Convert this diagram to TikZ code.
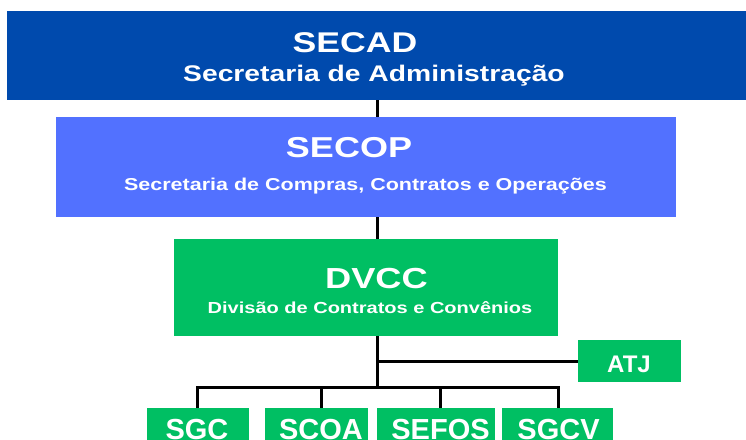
\documentclass[tikz,border=0pt]{standalone}
\usepackage{fontspec}
\setmainfont{Liberation Sans}
\newfontfamily\widesans[FakeStretch=1.25]{Liberation Sans}
\definecolor{secadblue}{HTML}{004AAD}
\definecolor{secopblue}{HTML}{5271FF}
\definecolor{unitgreen}{HTML}{00BF63}

\begin{document}
\begin{tikzpicture}[x=1pt, y=-1pt,
    unit/.style={fill=#1, inner sep=0pt, outer sep=0pt},
    wtext/.style={text=white, anchor=base, inner sep=0pt, font=\widesans\bfseries\fontsize{#1}{#1}\selectfont},
    ptext/.style={text=white, anchor=base, inner sep=0pt, font=\bfseries\fontsize{#1}{#1}\selectfont},
    link/.style={line width=3pt}]
		\useasboundingbox (0,0) rectangle (746,439);
		\node[unit=secadblue, minimum width=740pt, minimum height=89pt] (secad) at (377,55.5) {};
		\node[wtext=28.5] (secad-t) at (355,52) {SECAD};
		\node[wtext=22.6] (secad-s) at (374,81) {Secretaria de Administração};
		\node[unit=secopblue, minimum width=620pt, minimum height=100pt] (secop) at (366,167) {};
		\node[wtext=28.8] (secop-t) at (349,157) {SECOP};
		\node[wtext=17.2] (secop-s) at (365.5,190) {Secretaria de Compras, Contratos e Operações};
		\node[unit=unitgreen, minimum width=384pt, minimum height=97pt] (dvcc) at (366,287.5) {};
		\node[wtext=29] (dvcc-t) at (376.5,288) {DVCC};
		\node[wtext=16] (dvcc-s) at (370,313) {Divisão de Contratos e Convênios};
		\node[unit=unitgreen, minimum width=103pt, minimum height=42pt] (atj) at (629.5,361) {};
		\node[ptext=24] (atj-t) at (629,372) {ATJ};
		\foreach \n/\bx/\bw/\tx/\lbl in {sgc/198/102/197/SGC, scoa/316.5/103/321/SCOA, sefos/436/118/440.5/SEFOS, sgcv/557.5/111/558.5/SGCV} {
			\node[unit=unitgreen, minimum width=\bw pt, minimum height=44pt] (\n) at (\bx,430) {};
			\node[ptext=29] (\n-t) at (\tx,439.5) {\lbl};
		}
		\coordinate (spine) at (377,387);
		\draw[link] (spine |- secad.south) -- (spine |- secop.north);
		\draw[link] (spine |- secop.south) -- (spine |- dvcc.north);
		\draw[link] (spine |- dvcc.south) -- (spine);
		\draw[link] (spine |- atj.west) -- (atj.west);
		\draw[link] (sgc-t |- sgc.north) |- (spine) -| (sgcv-t |- sgcv.north);
		\draw[link] (spine -| scoa-t) -- (scoa-t |- scoa.north);
		\draw[link] (spine -| sefos-t) -- (sefos-t |- sefos.north);
		\end{tikzpicture}
\end{document}
